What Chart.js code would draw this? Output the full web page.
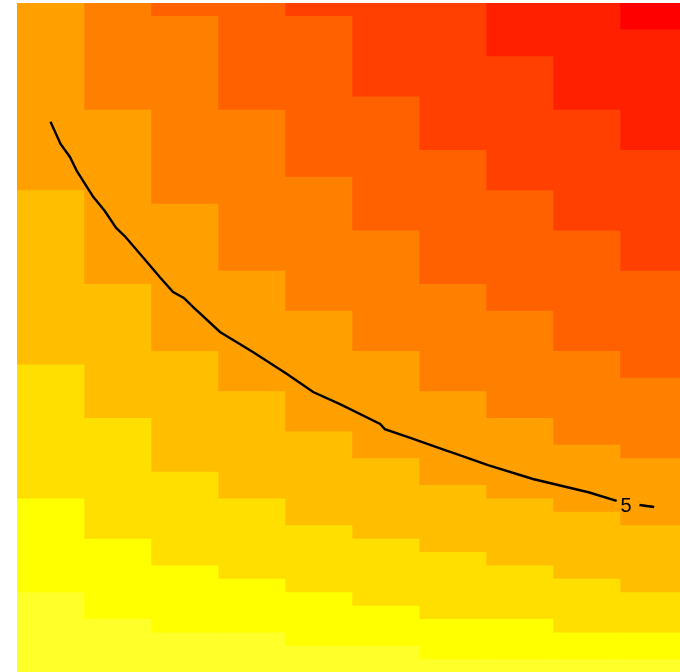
<!DOCTYPE html>
<html>
<head>
<meta charset="utf-8">
<script src="https://cdn.jsdelivr.net/npm/chart.js@4"></script>
<style>
  html, body { margin: 0; padding: 0; background: #fff; overflow: hidden; }
  #heat { display: block; }
</style>
</head>
<body>
<canvas id="heat" width="687" height="673"></canvas>
<script>
// Columns of the image (x cells)
const columns = ['1', '2', '3', '4', '5', '6', '7', '8', '9', '10'];

// heat palette, lowest level first
const levelColors = ['#FFFF2A', '#FFFF00', '#FFDF00', '#FFBF00', '#FF9F00',
                     '#FF8000', '#FF6000', '#FF4000', '#FF2000', '#FF0000'];

// number of y rows (out of 50) each colour band takes in every column, bottom to top
const band0 = [6, 4, 3, 3, 2, 2, 1, 1, 1, 1];
const band1 = [7, 6, 5, 4, 4, 3, 3, 3, 2, 2];
const band2 = [10, 9, 7, 6, 5, 5, 5, 4, 4, 3];
const band3 = [13, 10, 9, 8, 7, 6, 5, 5, 5, 5];
const band4 = [14, 13, 11, 9, 9, 8, 7, 6, 5, 5];
const band5 = [0, 8, 14, 12, 10, 9, 8, 8, 7, 6];
const band6 = [0, 0, 1, 8, 12, 10, 10, 9, 9, 8];
const band7 = [0, 0, 0, 0, 1, 7, 11, 10, 9, 9];
const band8 = [0, 0, 0, 0, 0, 0, 0, 4, 8, 9];
const band9 = [0, 0, 0, 0, 0, 0, 0, 0, 0, 2];
const bands = [band0, band1, band2, band3, band4, band5, band6, band7, band8, band9];

// contour line at level 5 (x in columns, y in rows); null leaves room for the label
const contourLevel = 5;
const contourX = [0.5, 0.65, 0.79, 0.89, 1.14, 1.31, 1.48, 1.62, 1.94, 2.13, 2.33, 2.49, 2.63,
                  3.03, 3.52, 4.03, 4.42, 4.82, 5.42, 5.49, 5.87, 6.42, 6.51, 7.03, 7.70, 8.45,
                  8.53, 8.95, 9.09, 9.29, 9.51];
const contourY = [41.14, 39.48, 38.51, 37.49, 35.52, 34.48, 33.21, 32.54, 30.67, 29.55, 28.43,
                  27.99, 27.31, 25.45, 23.96, 22.31, 20.97, 20.07, 18.58, 18.2, 17.54, 16.57,
                  16.42, 15.52, 14.48, 13.58, 13.49, 12.85, null, 12.54, 12.39];
const labelX = 9.09;
const labelY = 12.51;

const barSets = bands.map((rows, i) => ({
    type: 'bar',
    data: rows,
    backgroundColor: levelColors[i],
    borderWidth: 0,
    grouped: false,
    barPercentage: 1,
    categoryPercentage: 1,
    order: 1,
    xAxisID: 'x',
    yAxisID: 'y'
}));

const contourSet = {
    type: 'line',
    data: contourX.map((x, i) => ({ x: x, y: contourY[i] })),
    borderColor: '#000000',
    borderWidth: 2.4,
    pointRadius: 0,
    tension: 0,
    spanGaps: false,
    order: 0,
    xAxisID: 'xc',
    yAxisID: 'yc'
};

// draw the contour label
const contourLabel = {
    id: 'contourLabel',
    afterDatasetsDraw(chart) {
        const ctx = chart.ctx;
        const px = chart.scales.xc.getPixelForValue(labelX);
        const py = chart.scales.yc.getPixelForValue(labelY);
        ctx.save();
        ctx.fillStyle = '#000000';
        ctx.font = '20px "Liberation Sans", Arial, sans-serif';
        ctx.textAlign = 'center';
        ctx.textBaseline = 'middle';
        ctx.fillText(String(contourLevel), px, py + 1);
        ctx.restore();
    }
};

new Chart(document.getElementById('heat'), {
    type: 'bar',
    data: {
        labels: columns,
        datasets: [...barSets, contourSet]
    },
    options: {
        responsive: false,
        animation: false,
        devicePixelRatio: 1,
        layout: { padding: { left: 17, top: 3, right: 0, bottom: 0 } },
        plugins: {
            legend: { display: false },
            tooltip: { enabled: false }
        },
        scales: {
            x: { display: false, stacked: true, offset: true },
            y: { display: false, stacked: true, min: 0, max: 50 },
            xc: { type: 'linear', display: false, offset: false, min: 0, max: 10 },
            yc: { type: 'linear', display: false, offset: false, min: 0, max: 50 }
        }
    },
    plugins: [contourLabel]
});
</script>
</body>
</html>
